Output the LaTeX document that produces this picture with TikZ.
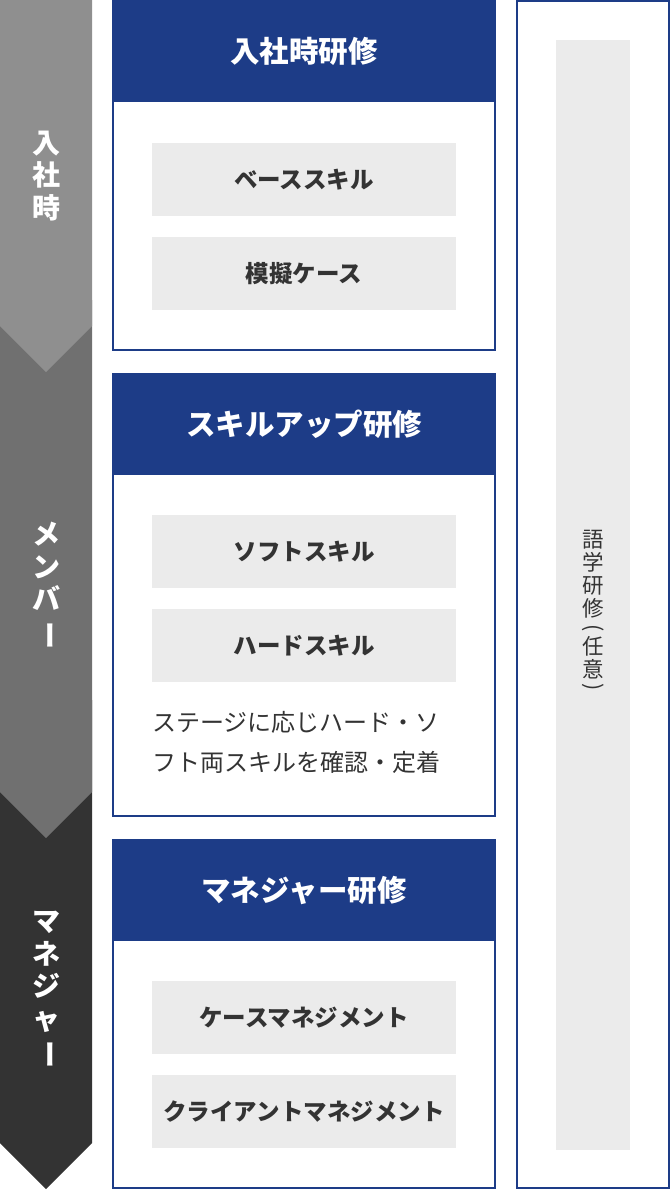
\documentclass[tikz,border=0pt]{standalone}
\usepackage{fontspec}
\setmainfont{Noto Sans CJK JP}
\usepackage{graphicx}
\definecolor{navy}{HTML}{1D3C87}
\definecolor{itemgray}{HTML}{EBEBEB}
\definecolor{ink}{HTML}{333333}
\definecolor{stageA}{HTML}{8F8F8F}
\definecolor{stageB}{HTML}{707070}
\definecolor{stageC}{HTML}{333333}
\newcommand{\vbar}{\rotatebox[origin=c]{-90}{ー}}
\tikzset {
  % outlined course box
  course/.style = {draw=navy, line width=2pt, minimum width=382pt, inner sep=0pt},
  % blue title band of a course
  header/.style = {fill=navy, text=white, font=\bfseries\fontsize{29.5}{29.5}\selectfont,
    minimum width=384pt, minimum height=102pt, anchor=north, inner sep=0pt},
  % grey skill boxes
  item/.style = {fill=itemgray, text=ink, font=\bfseries\fontsize{23.5}{23.5}\selectfont,
    minimum width=304pt, minimum height=73pt, inner sep=0pt},
  % vertical stage labels on the arrow
  stage/.style = {text=white, font=\bfseries\fontsize{28}{32.5}\selectfont, align=center, inner sep=0pt},
  note/.style = {text=ink, font=\fontsize{24}{40}\selectfont, align=left, inner sep=0pt, anchor=west},
}
\begin{document}
\begin{tikzpicture}[x=1pt, y=-1pt]
  \useasboundingbox (0,0) rectangle (670,1190);

  % stage arrow
  \fill[stageC] (0,700) -- (92,700) -- (92,1143) -- (46,1189) -- (0,1143) -- cycle;
  \fill[stageB] (0,300) -- (92,300) -- (92,792) -- (46,838) -- (0,792) -- cycle;
  \fill[stageA] (0,0) -- (92,0) -- (92,326) -- (46,372) -- (0,326) -- cycle;

  \node[stage] (join) at (46,176) {入\\社\\時};
  \node[stage] (member) at (46,586) {メ\\ン\\バ\\\vbar};
  \node[stage] (manager) at (46,990) {マ\\ネ\\ジ\\ャ\\\vbar};

  % entry course
  \node[course, minimum height=349pt] (entry) at (304,175.5) {};
  \node[header] (entryhead) at (304,0) {入社時研修};
  \node[item] (base) at (304,179.5) {ベーススキル};
  \node[item] (mock) at (304,273.5) {模擬ケース};

  % skill-up course
  \node[course, minimum height=442pt] (skillup) at (304,595) {};
  \node[header] (skilluphead) at (304,373) {スキルアップ研修};
  \node[item] (soft) at (304,551.5) {ソフトスキル};
  \node[item] (hard) at (304,645.5) {ハードスキル};
  \node[note] (skillnote) at (152,742) {ステージに応じハード・ソ\\フト両スキルを確認・定着};

  % manager course
  \node[course, minimum height=348pt] (mgr) at (304,1014) {};
  \node[header] (mgrhead) at (304,839) {マネジャー研修};
  \node[item] (casemgmt) at (304,1017.5) {ケースマネジメント};
  \node[item] (clientmgmt) at (304,1111.5) {クライアントマネジメント};

  % language course
  \node[course, minimum width=152pt, minimum height=1187pt] (lang) at (593,594.5) {};
  \node[fill=itemgray, minimum width=74pt, minimum height=1110pt, inner sep=0pt] (langbar) at (593,595) {};
  \node[text=ink, font=\fontsize{21.5}{23}\selectfont, align=center, inner sep=0pt] (langtext) at (593,612)
    {語\\学\\研\\修\\[-4pt]\rotatebox[origin=c]{-90}{(}\\[-4pt]任\\意\\[-6pt]\rotatebox[origin=c]{-90}{)}};
\end{tikzpicture}
\end{document}
